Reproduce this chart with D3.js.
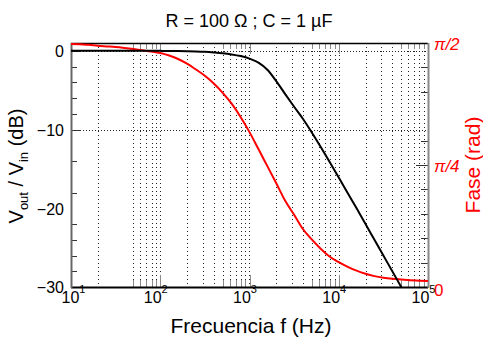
<!DOCTYPE html>
<html>
<head>
<meta charset="utf-8">
<script src="https://cdn.jsdelivr.net/npm/d3@7"></script>
<style>
  html, body { margin: 0; padding: 0; background: #fff; }
  svg { display: block; font-family: "Liberation Sans", Arial, sans-serif; }
</style>
</head>
<body>
<svg id="chart" width="483" height="338"></svg>
<script>
// ---- data ----
const freqs = [10, 12.59, 15.85, 19.95, 25.12, 31.62, 39.81, 50.12, 63.1, 79.43,
  100, 125.9, 158.5, 199.5, 251.2, 316.2, 398.1, 501.2, 631, 794.3,
  1000, 1259, 1585, 1995, 2512, 3162, 3981, 5012, 6310, 7943,
  10000, 12589, 15849, 19953, 25119, 31623, 39811, 50119, 63096, 79433, 100000];
const magDb = [0, 0, 0, 0, 0, 0, 0, 0, 0, 0,
  0, -0.01, -0.02, -0.04, -0.07, -0.12, -0.2, -0.3, -0.45, -0.66,
  -0.98, -1.5, -2.4, -3.85, -5.5, -7.1, -8.65, -10.4, -12.25, -14.15,
  -16.1, -18.05, -20.0, -22.0, -24.0, -26.0, -28.0, -30.0, -32.0, -34.0, -36.0];
const phaseRad = [1.565, 1.562, 1.559, 1.553, 1.549, 1.545, 1.539, 1.532, 1.524, 1.516,
  1.506, 1.490, 1.468, 1.438, 1.400, 1.360, 1.310, 1.250, 1.180, 1.095,
  0.997, 0.888, 0.778, 0.668, 0.555, 0.465, 0.372, 0.305, 0.245, 0.195,
  0.160, 0.130, 0.105, 0.085, 0.070, 0.060, 0.053, 0.048, 0.044, 0.041, 0.038];

const titleText = "R = 100 \u03A9 ; C = 1 \u00B5F";
const xTitle = "Frecuencia f (Hz)";
const yRightTitle = "Fase (rad)";
const xMajorTicks = [10, 100, 1000, 10000, 100000];
const xExponents = ["1", "2", "3", "4", "5"];
const xMinorTicks = [50, 60, 70, 80, 90, 500, 600, 700, 800, 900,
  5000, 6000, 7000, 8000, 9000, 50000, 60000, 70000, 80000, 90000];
const xGridLines = [20, 50, 60, 70, 80, 90, 100,
  200, 300, 400, 500, 600, 700, 800, 900, 1000,
  2000, 3000, 4000, 5000, 6000, 7000, 8000, 9000, 10000,
  20000, 30000, 40000, 50000, 60000, 70000, 80000, 90000];
const yLeftLabels = [0, -10, -20, -30];
const yLeftMinor = [-2, -4, -6, -8, -14, -18, -22, -24, -26, -28];
const yLeftMajorTicks = [0, -10];
const yGridLines = [0, -10];
const yRightLabelValues = [0, Math.PI / 4, Math.PI / 2];
const yRightLabelText = ["0", "\u03C0/4", "\u03C0/2"];
const yRightMinorSteps = [1, 2, 3, 4, 6, 8, 9];   // multiples of pi/20
const yRightMajorTicks = [Math.PI / 4];

// ---- layout ----
const L = 71, R = 428, T = 43, B = 287;
const svg = d3.select("#chart");

const x = d3.scaleLog().domain([10, 1e5]).range([L, R]);
const yL = d3.scaleLinear().domain([-30, 1]).range([B, T]);
const yR = d3.scaleLinear().domain([0, Math.PI / 2]).range([B, T]);

svg.append("defs").append("clipPath").attr("id", "clip")
  .append("rect").attr("x", L).attr("y", T).attr("width", R - L).attr("height", B - T);

// grid
const grid = svg.append("g").attr("stroke", "#222").attr("stroke-width", 1)
  .attr("stroke-dasharray", "1,3").attr("shape-rendering", "crispEdges");
grid.selectAll("line.v").data(xGridLines).join("line").attr("class", "v")
  .attr("x1", d => Math.round(x(d)) + 0.5).attr("x2", d => Math.round(x(d)) + 0.5)
  .attr("y1", T).attr("y2", B);
grid.selectAll("line.h").data(yGridLines).join("line").attr("class", "h")
  .attr("x1", L).attr("x2", R)
  .attr("y1", d => Math.round(yL(d)) + 0.5).attr("y2", d => Math.round(yL(d)) + 0.5)
  .attr("stroke-dasharray", "1,2");

function tickAxis(axis, tx, ty, color) {
  const g = svg.append("g").attr("transform", `translate(${tx},${ty})`).call(axis);
  g.select(".domain").remove();
  g.selectAll(".tick line").attr("stroke", color).attr("shape-rendering", "crispEdges");
  g.selectAll(".tick text").remove();
  return g;
}

// x ticks (top and bottom, pointing inward)
tickAxis(d3.axisBottom(x).tickValues(xMinorTicks).tickSize(-7).tickFormat(""), 0, B, "#8a8a8a");
tickAxis(d3.axisBottom(x).tickValues(xMajorTicks.slice(1, 4)).tickSize(-12).tickFormat(""), 0, B, "#8a8a8a");
tickAxis(d3.axisTop(x).tickValues(xMinorTicks).tickSize(-6).tickFormat(""), 0, T, "#8a8a8a");
tickAxis(d3.axisTop(x).tickValues(xMajorTicks.slice(1, 4)).tickSize(-11).tickFormat(""), 0, T, "#8a8a8a");

// left ticks
tickAxis(d3.axisLeft(yL).tickValues(yLeftMinor).tickSize(-6).tickFormat(""), L, 0, "#333");
tickAxis(d3.axisLeft(yL).tickValues(yLeftMajorTicks).tickSize(-10).tickFormat(""), L, 0, "#333");
// right ticks
tickAxis(d3.axisRight(yR).tickValues(yRightMinorSteps.map(k => k * Math.PI / 20)).tickSize(-7).tickFormat(""), R, 0, "#333");
tickAxis(d3.axisRight(yR).tickValues(yRightMajorTicks).tickSize(-12).tickFormat(""), R, 0, "#333");

// frame
svg.append("line").attr("x1", L).attr("x2", R).attr("y1", T + 0.5).attr("y2", T + 0.5).attr("stroke", "#000").attr("stroke-width", 1.5);
svg.append("line").attr("x1", L).attr("x2", R).attr("y1", B + 0.5).attr("y2", B + 0.5).attr("stroke", "#000").attr("stroke-width", 2);
svg.append("line").attr("x1", L + 0.5).attr("x2", L + 0.5).attr("y1", T).attr("y2", B + 1).attr("stroke", "#666").attr("stroke-width", 2);
svg.append("line").attr("x1", R + 0.5).attr("x2", R + 0.5).attr("y1", T).attr("y2", B + 1).attr("stroke", "#888").attr("stroke-width", 2);

// curves
const data = freqs.map((f, i) => ({ f, m: magDb[i], p: phaseRad[i] }));
const curves = svg.append("g").attr("clip-path", "url(#clip)");
curves.append("path").datum(data)
  .attr("fill", "none").attr("stroke", "#ff0000").attr("stroke-width", 2)
  .attr("d", d3.line().curve(d3.curveMonotoneX).x(d => x(d.f)).y(d => yR(d.p)));
curves.append("path").datum(data)
  .attr("fill", "none").attr("stroke", "#000").attr("stroke-width", 2)
  .attr("d", d3.line().curve(d3.curveMonotoneX).x(d => x(d.f)).y(d => yL(d.m)));

// x labels via axis
const xLab = svg.append("g").attr("transform", `translate(0,${B})`)
  .call(d3.axisBottom(x).tickValues(xMajorTicks).tickSize(0).tickPadding(0).tickFormat(""));
xLab.select(".domain").remove();
xLab.selectAll(".tick line").remove();
xLab.selectAll(".tick text").each(function (d, i) {
  const t = d3.select(this).attr("y", 16).attr("dy", null)
    .attr("font-size", 16).attr("fill", "#000").attr("text-anchor", "middle")
    .attr("x", i === 0 ? 2 : -5)
    .attr("font-family", "Liberation Sans, Arial, sans-serif");
  t.text(null);
  t.append("tspan").text("10");
  t.append("tspan").attr("font-size", 11).attr("dy", -10).text(xExponents[i]);
});

// left labels via axis
const yLab = svg.append("g").attr("transform", `translate(${L},0)`)
  .call(d3.axisLeft(yL).tickValues(yLeftLabels).tickSize(0).tickPadding(7).tickFormat(d3.format("d")));
yLab.select(".domain").remove();
yLab.selectAll(".tick text").attr("font-size", 16).attr("fill", "#000")
  .attr("font-family", "Liberation Sans, Arial, sans-serif").attr("dy", "0.36em");

// right labels via axis
const yRLab = svg.append("g").attr("transform", `translate(${R},0)`)
  .call(d3.axisRight(yR).tickValues(yRightLabelValues).tickSize(0).tickPadding(6)
    .tickFormat((d, i) => yRightLabelText[i]));
yRLab.select(".domain").remove();
yRLab.selectAll(".tick text").attr("font-size", 17).attr("fill", "#ff0000")
  .attr("font-family", "Liberation Sans, Arial, sans-serif")
  .attr("dy", (d, i) => i === 0 ? "0.5em" : "0.36em")
  .attr("font-style", (d, i) => i === 0 ? null : "italic");

// title
svg.append("text").attr("x", 249).attr("y", 27).attr("text-anchor", "middle")
  .attr("font-size", 18).attr("fill", "#000").text(titleText);

// x title
svg.append("text").attr("x", 251).attr("y", 333).attr("text-anchor", "middle")
  .attr("font-size", 21).attr("fill", "#000").text(xTitle);

// left y title
const yt = svg.append("text").attr("transform", "translate(23,166) rotate(-90)")
  .attr("text-anchor", "middle").attr("font-size", 20).attr("fill", "#000");
yt.append("tspan").text("V");
yt.append("tspan").attr("font-size", 13).attr("dy", 5).text("out");
yt.append("tspan").attr("dy", -5).text(" / V");
yt.append("tspan").attr("font-size", 13).attr("dy", 5).text("in");
yt.append("tspan").attr("dy", -5).text(" (dB)");

// right y title
svg.append("text").attr("transform", "translate(480,165) rotate(-90)")
  .attr("text-anchor", "middle").attr("font-size", 21).attr("fill", "#ff0000").text(yRightTitle);
</script>
</body>
</html>
